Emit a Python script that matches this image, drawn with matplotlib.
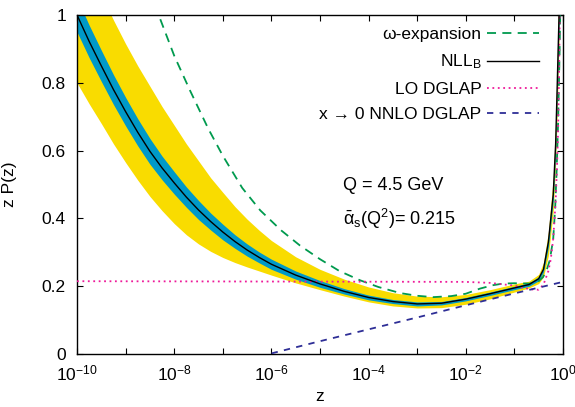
import numpy as np
import matplotlib
matplotlib.use("Agg")
import matplotlib.pyplot as plt

plt.rcParams['font.family'] = ['Liberation Sans', 'DejaVu Sans']
plt.rcParams['mathtext.fontset'] = 'custom'
plt.rcParams['mathtext.rm'] = 'Liberation Sans'
plt.rcParams['mathtext.it'] = 'Liberation Sans:italic'
plt.rcParams['mathtext.bf'] = 'Liberation Sans:bold'

# ---- data (log10 z and z P(z)) ----
logz_nll = [-10, -9.75, -9.5, -9.25, -9, -8.75, -8.5, -8.25, -8, -7.75, -7.5, -7.25, -7,
            -6.75, -6.5, -6.25, -6, -5.5, -5, -4.5, -4, -3.5, -3, -2.5, -2, -1.5, -1,
            -0.7, -0.5, -0.4, -0.3, -0.2, -0.15, -0.12, -0.08]
nll_b = [1.000, 0.922, 0.850, 0.780, 0.715, 0.654, 0.598, 0.549, 0.505, 0.463, 0.425,
         0.391, 0.360, 0.332, 0.307, 0.285, 0.265, 0.233, 0.207, 0.185, 0.167, 0.155,
         0.148, 0.150, 0.162, 0.178, 0.195, 0.205, 0.222, 0.25, 0.33, 0.47, 0.62, 0.78,
         1.00]
cyan_hi = [1.050, 0.970, 0.896, 0.824, 0.757, 0.694, 0.636, 0.584, 0.538, 0.493, 0.453,
           0.416, 0.383, 0.352, 0.325, 0.301, 0.280, 0.245, 0.217, 0.193, 0.174, 0.161,
           0.154, 0.155, 0.167, 0.183, 0.200, 0.210, 0.228, 0.258, 0.345, 0.49, 0.645,
           0.81, 1.04]
cyan_lo = [0.950, 0.874, 0.804, 0.736, 0.673, 0.614, 0.560, 0.514, 0.472, 0.433, 0.397,
           0.366, 0.337, 0.312, 0.289, 0.269, 0.250, 0.221, 0.197, 0.177, 0.160, 0.149,
           0.142, 0.145, 0.157, 0.173, 0.190, 0.200, 0.216, 0.242, 0.315, 0.45, 0.595,
           0.75, 0.96]
yellow_hi = [1.25, 1.15, 1.06, 0.985, 0.915, 0.85, 0.79, 0.73, 0.675, 0.62, 0.57, 0.52,
             0.477, 0.435, 0.398, 0.365, 0.335, 0.287, 0.25, 0.221, 0.198, 0.181, 0.171,
             0.169, 0.176, 0.19, 0.207, 0.215, 0.235, 0.27, 0.36, 0.52, 0.68, 0.86, 1.10]
yellow_lo = [0.80, 0.738, 0.68, 0.62, 0.565, 0.513, 0.465, 0.423, 0.385, 0.352, 0.325,
             0.303, 0.285, 0.27, 0.257, 0.245, 0.233, 0.21, 0.19, 0.171, 0.154, 0.142,
             0.136, 0.137, 0.147, 0.163, 0.183, 0.195, 0.208, 0.228, 0.29, 0.42, 0.56,
             0.70, 0.92]

logz_omega = [-8.4, -8.0, -7.67, -7.3, -7.0, -6.6, -6.23, -5.8, -5.41, -5.0, -4.6, -4.18,
              -3.8, -3.35, -3.0, -2.67, -2.3, -2.0, -1.71, -1.45, -1.23, -1.0, -0.68, -0.5,
              -0.41, -0.33, -0.27, -0.2, -0.16, -0.13, -0.1, -0.07, -0.05]
omega = [1.03, 0.88, 0.776, 0.665, 0.585, 0.49, 0.424, 0.365, 0.32, 0.28, 0.245, 0.218,
         0.198, 0.18, 0.172, 0.168, 0.171, 0.178, 0.193, 0.203, 0.208, 0.209, 0.208, 0.215,
         0.227, 0.25, 0.277, 0.34, 0.43, 0.54, 0.68, 0.88, 1.05]

logz_lo = [-10, -2, -1.5, -1, -0.8, -0.6, -0.5, -0.4, -0.3, -0.25, -0.2, -0.15, -0.12,
           -0.1, -0.08, -0.065]
lo_dglap = [0.215, 0.213, 0.210, 0.202, 0.195, 0.190, 0.190, 0.205, 0.245, 0.28, 0.34,
            0.45, 0.56, 0.66, 0.82, 1.0]

logz_nnlo = [-6.5, -6, -5, -4, -3, -2, -1, 0]
nnlo = [-0.016, 0.002, 0.038, 0.073, 0.108, 0.144, 0.179, 0.213]

xtick_exp = list(range(-10, 1))
ytick_vals = [0, 0.2, 0.4, 0.6, 0.8, 1]

def z(lz):
    return 10.0 ** np.asarray(lz, dtype=float)

fig = plt.figure(figsize=(5.75, 4.07), dpi=100)
ax = fig.add_axes([0.134, 0.130, 0.845, 0.833])

yellow = '#f9dc00'
cyan = '#0099c8'
ax.fill_between(z(logz_nll), yellow_lo, yellow_hi, color=yellow, lw=0, zorder=1)
ax.fill_between(z(logz_nll), cyan_lo, cyan_hi, color=cyan, lw=0, zorder=2)

l_om, = ax.plot(z(logz_omega), omega, color='#009a4e', lw=1.3, ls=(0, (5, 3.5)), zorder=4,
                label='ω-expansion')
l_nll, = ax.plot(z(logz_nll), nll_b, color='black', lw=1.0, zorder=5,
                 label=r'NLL$_\mathregular{B}$')
l_lo, = ax.plot(z(logz_lo), lo_dglap, color='#ee1a9a', lw=1.3, ls=(0, (1, 2)), zorder=4,
                label='LO DGLAP')
l_nn, = ax.plot(z(logz_nnlo), nnlo, color='#2e2e96', lw=1.3, ls=(0, (3.5, 3.5)), zorder=4,
                label='x → 0 NNLO DGLAP')

ax.set_xscale('log')
ax.set_xlim(1e-10, 1)
ax.set_ylim(0, 1)

ax.set_xticks([10.0 ** e for e in xtick_exp])
ax.set_xticklabels([(r'10$^{%d}$' % e) if e % 2 == 0 else '' for e in xtick_exp])
ax.xaxis.set_minor_locator(matplotlib.ticker.NullLocator())
ax.set_yticks(ytick_vals)
ax.set_yticklabels(['0', '0.2', '0.4', '0.6', '0.8', '1'])
ax.tick_params(direction='in', top=True, right=True, length=4, width=0.8,
               labelsize=12.5)
ax.tick_params(axis='x', pad=7)
ax.tick_params(axis='y', pad=8)
for s in ax.spines.values():
    s.set_linewidth(1.0)

ax.set_xlabel('z', fontsize=12.5, labelpad=4)
ax.set_ylabel('z P(z)', fontsize=12.5, labelpad=18)

ax.text(3.0e-5, 0.497, 'Q = 4.5 GeV', fontsize=13, va='center')
ax.text(3.0e-5, 0.40, r'$\bar{\mathrm{\alpha}}_\mathrm{s}$(Q$^2$)= 0.215', fontsize=13,
        va='center')

leg = ax.legend(handles=[l_om, l_nll, l_lo, l_nn], loc='upper right', frameon=False,
                markerfirst=False, fontsize=12.5, handlelength=3.0, labelspacing=0.6,
                handletextpad=0.35, borderaxespad=0.0, bbox_to_anchor=(0.966, 0.985))

fig.savefig('out.png', dpi=100)
